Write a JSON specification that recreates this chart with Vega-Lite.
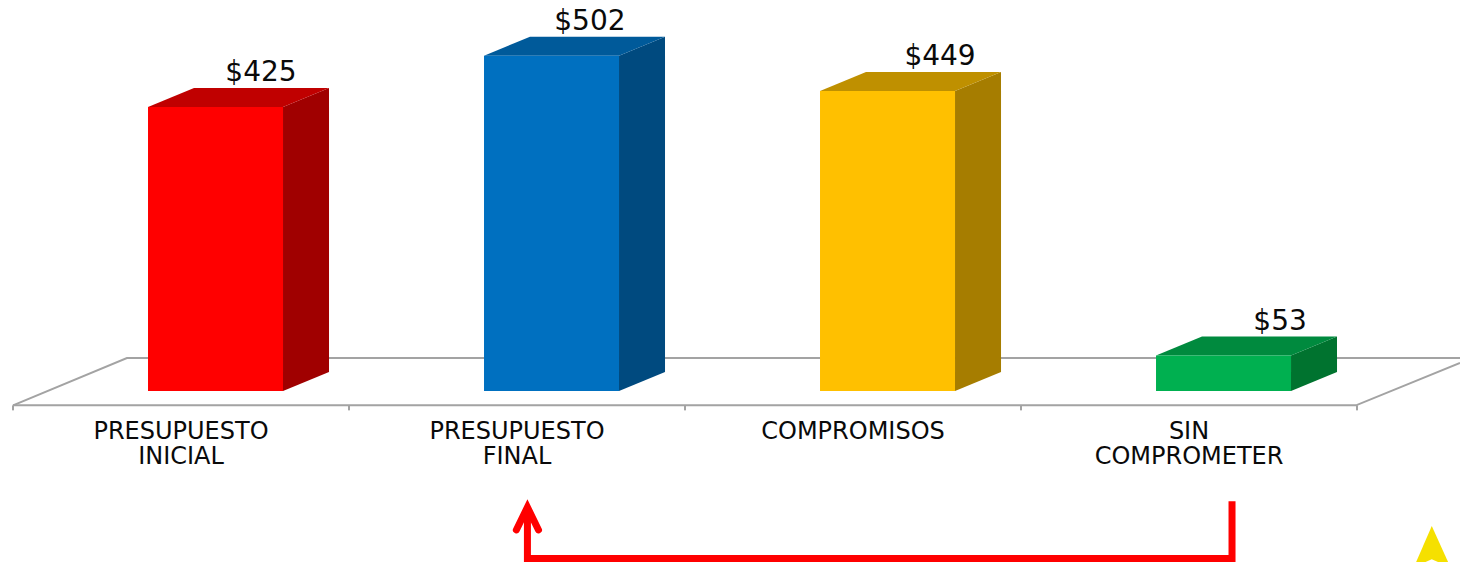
{
"$schema":"https://vega.github.io/schema/vega-lite/v6.json",
"width":1460,"height":562,"autosize":{"type":"fit","contains":"padding"},"padding":0,"background":"white",
"config":{"view":{"stroke":null}},
"datasets":{
"bars":[{"label":"PRESUPUESTO INICIAL","value":425},{"label":"PRESUPUESTO FINAL","value":502},{"label":"COMPROMISOS","value":449},{"label":"SIN COMPROMETER","value":53}],
"floor":[{"part":"left","u":0,"v":-21.5},{"part":"left","u":0.339,"v":49.4},{"part":"left","u":4.3065,"v":49.4},{"part":"front","u":0,"v":-21.5},{"part":"front","u":3.997,"v":-21.5},{"part":"front","u":4.3065,"v":41.9}],
"ticks":[{"u":0},{"u":1},{"u":2},{"u":3},{"u":4}],
"arrow":[{"part":"shaft","o":1,"u":3.628,"v":-165},{"part":"shaft","o":2,"u":3.628,"v":-250.7},{"part":"shaft","o":3,"u":1.531,"v":-250.7},{"part":"shaft","o":4,"u":1.531,"v":-178},{"part":"head","o":1,"u":1.498,"v":-208},{"part":"head","o":2,"u":1.531,"v":-174},{"part":"head","o":3,"u":1.564,"v":-208}],
"sign":[{"u":4.176,"lo":-256,"hi":-256},{"u":4.2225,"lo":-256,"hi":-202},{"u":4.271,"lo":-256,"hi":-256}],
"signInner":[{"u":4.204,"lo":-256,"hi":-256},{"u":4.2225,"lo":-256,"hi":-252},{"u":4.241,"lo":-256,"hi":-256}]
},
"resolve":{"scale":{"color":"independent"}},
"layer":[
{"data":{"name":"floor"},"mark":{"type":"line","color":"#A3A3A3","strokeWidth":2,"clip":true},
"encoding":{"x":{"field":"u","type":"quantitative","sort":null,"axis":null,"scale":{"domain":[-0.0387,4.3065],"nice":false,"zero":false}},"y":{"field":"v","type":"quantitative","axis":null,"scale":{"domain":[-256,585.3],"nice":false,"zero":false}},"detail":{"field":"part"},"order":{"field":"u"}}},
{"data":{"name":"ticks"},"mark":{"type":"rule","color":"#A3A3A3","strokeWidth":2},
"encoding":{"x":{"field":"u","type":"quantitative","axis":null,"scale":{"domain":[-0.0387,4.3065],"nice":false,"zero":false}},"y":{"datum":-21.5,"type":"quantitative","axis":null,"scale":{"domain":[-256,585.3],"nice":false,"zero":false}},"y2":{"datum":-29}}},
{"data":{"name":"bars"},
"transform":[{"window":[{"op":"row_number","as":"i"}]},{"calculate":"[0,1]","as":"t"},{"flatten":["t"]},{"calculate":"datum.i-1+0.4018+0.4018+datum.t*0.1369","as":"sx"},{"calculate":"datum.t*28.4","as":"slo"},{"calculate":"datum.value+datum.t*28.4","as":"shi"}],
"mark":{"type":"area","orient":"vertical"},
"encoding":{"x":{"field":"sx","type":"quantitative","axis":null,"scale":{"domain":[-0.0387,4.3065],"nice":false,"zero":false}},"y":{"field":"shi","type":"quantitative","axis":null,"stack":null,"scale":{"domain":[-256,585.3],"nice":false,"zero":false}},"y2":{"field":"slo"},
"color":{"field":"label","type":"nominal","legend":null,"scale":{"domain":["PRESUPUESTO INICIAL","PRESUPUESTO FINAL","COMPROMISOS","SIN COMPROMETER"],"range":["#A00000","#004A7F","#A67D00","#00732F"]}}}},
{"data":{"name":"bars"},
"transform":[{"window":[{"op":"row_number","as":"i"}]},{"calculate":"[0,1,2,3]","as":"t"},{"flatten":["t"]},{"calculate":"datum.i-1+0.4018+[0,0.1369,0.4018,0.5387][datum.t]","as":"tx"},{"calculate":"datum.value+(datum.t==3?28.4:0)","as":"tlo"},{"calculate":"datum.value+(datum.t==0?0:28.4)","as":"thi"}],
"mark":{"type":"area","orient":"vertical"},
"encoding":{"x":{"field":"tx","type":"quantitative","axis":null,"scale":{"domain":[-0.0387,4.3065],"nice":false,"zero":false}},"y":{"field":"thi","type":"quantitative","axis":null,"stack":null,"scale":{"domain":[-256,585.3],"nice":false,"zero":false}},"y2":{"field":"tlo"},
"color":{"field":"label","type":"nominal","legend":null,"scale":{"domain":["PRESUPUESTO INICIAL","PRESUPUESTO FINAL","COMPROMISOS","SIN COMPROMETER"],"range":["#C00000","#005A9A","#BF9000","#008A3E"]}}}},
{"data":{"name":"bars"},
"transform":[{"window":[{"op":"row_number","as":"i"}]},{"calculate":"datum.i-1+0.4018","as":"x0"},{"calculate":"datum.i-1+0.8036","as":"x1"}],
"mark":{"type":"rect"},
"encoding":{"x":{"field":"x0","type":"quantitative","axis":null,"scale":{"domain":[-0.0387,4.3065],"nice":false,"zero":false}},"x2":{"field":"x1"},"y":{"field":"value","type":"quantitative","axis":null,"scale":{"domain":[-256,585.3],"nice":false,"zero":false}},"y2":{"datum":0},
"color":{"field":"label","type":"nominal","legend":null,"scale":{"domain":["PRESUPUESTO INICIAL","PRESUPUESTO FINAL","COMPROMISOS","SIN COMPROMETER"],"range":["#FF0000","#0070C0","#FFC000","#00B050"]}}}},
{"data":{"name":"bars"},
"transform":[{"window":[{"op":"row_number","as":"i"}]},{"calculate":"datum.i-1+[0.738,0.717,0.759,0.771][datum.i-1]","as":"lx"},{"calculate":"datum.value+28.4+22.5","as":"ly"}],
"mark":{"type":"text","font":"DejaVu Sans","fontSize":28,"color":"#0A0A0A","align":"center","baseline":"middle"},
"encoding":{"x":{"field":"lx","type":"quantitative","axis":null,"scale":{"domain":[-0.0387,4.3065],"nice":false,"zero":false}},"y":{"field":"ly","type":"quantitative","axis":null,"scale":{"domain":[-256,585.3],"nice":false,"zero":false}},"text":{"field":"value","type":"quantitative","format":"$d"}}},
{"data":{"name":"bars"},
"transform":[{"window":[{"op":"row_number","as":"i"}]},{"calculate":"datum.i-0.5","as":"cx"}],
"mark":{"type":"text","font":"DejaVu Sans","fontSize":24,"color":"#0A0A0A","align":"center","baseline":"top","lineBreak":" ","lineHeight":25},
"encoding":{"x":{"field":"cx","type":"quantitative","axis":null,"scale":{"domain":[-0.0387,4.3065],"nice":false,"zero":false}},"y":{"datum":-43,"type":"quantitative","axis":null,"scale":{"domain":[-256,585.3],"nice":false,"zero":false}},"text":{"field":"label"}}},
{"data":{"name":"arrow"},"mark":{"type":"line","color":"#FF0000","strokeWidth":7,"strokeJoin":"miter","strokeCap":"butt","clip":true},
"transform":[{"filter":"datum.part=='shaft'"}],
"encoding":{"x":{"field":"u","type":"quantitative","sort":null,"axis":null,"scale":{"domain":[-0.0387,4.3065],"nice":false,"zero":false}},"y":{"field":"v","type":"quantitative","axis":null,"scale":{"domain":[-256,585.3],"nice":false,"zero":false}},"order":{"field":"o"}}},
{"data":{"name":"arrow"},"mark":{"type":"line","color":"#FF0000","strokeWidth":7,"strokeJoin":"miter","strokeCap":"round"},
"transform":[{"filter":"datum.part=='head'"}],
"encoding":{"x":{"field":"u","type":"quantitative","sort":null,"axis":null,"scale":{"domain":[-0.0387,4.3065],"nice":false,"zero":false}},"y":{"field":"v","type":"quantitative","axis":null,"scale":{"domain":[-256,585.3],"nice":false,"zero":false}},"order":{"field":"o"}}},
{"data":{"name":"sign"},"mark":{"type":"area","color":"#F5E000","orient":"vertical"},
"encoding":{"x":{"field":"u","type":"quantitative","axis":null,"scale":{"domain":[-0.0387,4.3065],"nice":false,"zero":false}},"y":{"field":"hi","type":"quantitative","axis":null,"stack":null,"scale":{"domain":[-256,585.3],"nice":false,"zero":false}},"y2":{"field":"lo"}}},
{"data":{"name":"signInner"},"mark":{"type":"area","color":"#FFFFFF","orient":"vertical"},
"encoding":{"x":{"field":"u","type":"quantitative","axis":null,"scale":{"domain":[-0.0387,4.3065],"nice":false,"zero":false}},"y":{"field":"hi","type":"quantitative","axis":null,"stack":null,"scale":{"domain":[-256,585.3],"nice":false,"zero":false}},"y2":{"field":"lo"}}}
]
}
